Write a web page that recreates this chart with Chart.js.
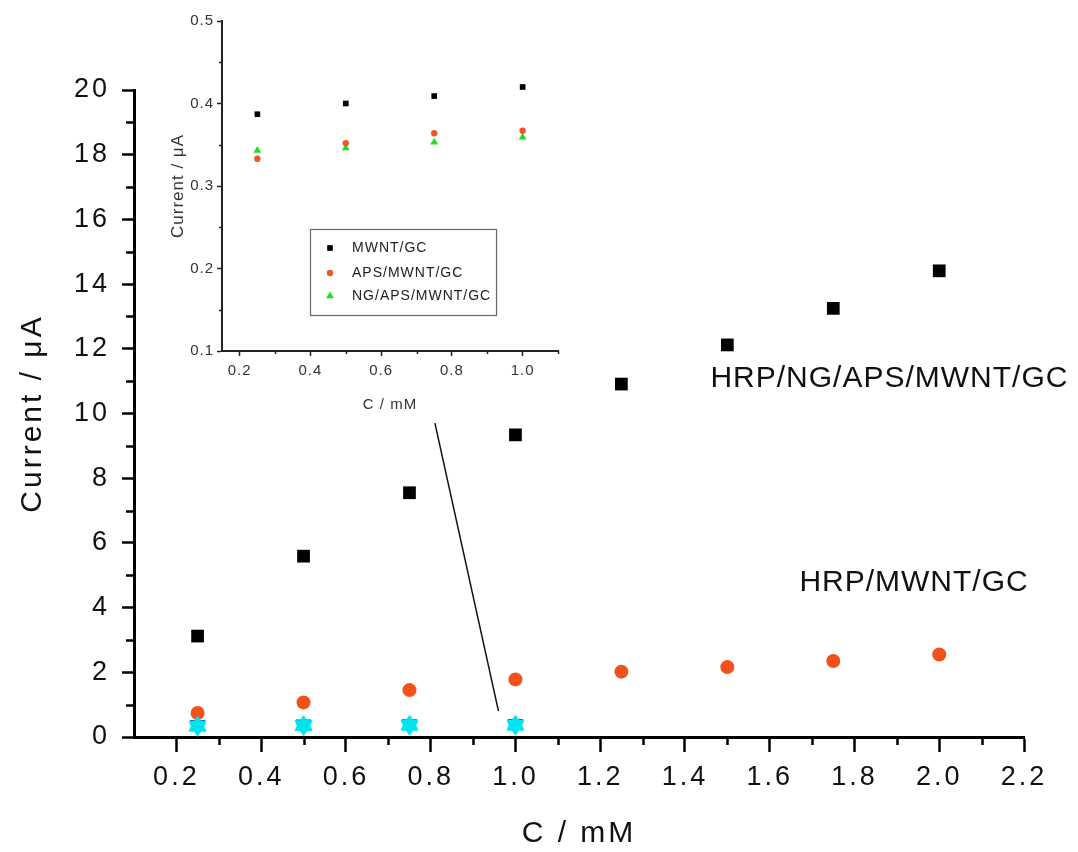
<!DOCTYPE html>
<html>
<head>
<meta charset="utf-8">
<title>Current vs concentration</title>
<script src="https://cdn.jsdelivr.net/npm/chart.js@4.4.1/dist/chart.umd.min.js"></script>
<style>
  html, body { margin: 0; padding: 0; background: #fff; }
  #wrap { position: relative; width: 1078px; height: 852px; overflow: hidden; }
  #mainChart { position: absolute; left: 0; top: 0; }
  #insetChart { position: absolute; left: 160px; top: 0; }
</style>
</head>
<body>
<div id="wrap">
  <canvas id="mainChart" width="1078" height="852"></canvas>
  <canvas id="insetChart" width="410" height="420"></canvas>
</div>
<script>
// concentrations (mM)
const concMain = [0.25, 0.5, 0.75, 1.0, 1.25, 1.5, 1.75, 2.0];
const concInset = [0.25, 0.5, 0.75, 1.0];

// main plot currents (uA)
const hrpNgApsMwnt = [3.12, 5.59, 7.55, 9.34, 10.91, 12.12, 13.25, 14.41];
const hrpMwnt = [0.74, 1.07, 1.45, 1.78, 2.02, 2.16, 2.35, 2.55];

// electrodes without HRP (shown in both plots)
const mwnt = [0.387, 0.400, 0.409, 0.420];
const apsMwnt = [0.333, 0.352, 0.364, 0.367];
const ngApsMwnt = [0.343, 0.346, 0.353, 0.359];

// ticks
const xTicksMain = [0.2, 0.4, 0.6, 0.8, 1.0, 1.2, 1.4, 1.6, 1.8, 2.0, 2.2];
const xMinorMain = [0.3, 0.5, 0.7, 0.9, 1.1, 1.3, 1.5, 1.7, 1.9, 2.1];
const yTicksMain = [0, 2, 4, 6, 8, 10, 12, 14, 16, 18, 20];
const yMinorMain = [1, 3, 5, 7, 9, 11, 13, 15, 17, 19];
const xTicksInset = [0.2, 0.4, 0.6, 0.8, 1.0];
const xMinorInset = [0.3, 0.5, 0.7, 0.9, 1.1];
const yTicksInset = [0.1, 0.2, 0.3, 0.4, 0.5];
const yMinorInset = [0.15, 0.25, 0.35, 0.45];

// line from the inset down to the low points (data units)
const connectorX = [0.81, 0.96];
const connectorY = [9.7, 0.8];

// curve names written next to the data (data units, left/middle of text)
const curveNames = ['HRP/NG/APS/MWNT/GC', 'HRP/MWNT/GC'];
const curveNameX = [1.46, 1.67];
const curveNameY = [11.07, 4.78];

const insetNames = ['MWNT/GC', 'APS/MWNT/GC', 'NG/APS/MWNT/GC'];

const FONT = '"Liberation Sans", Arial, Helvetica, sans-serif';

function toPoints(xs, ys) {
    return xs.map((x, i) => ({ x: x, y: ys[i] }));
}

function makeStar(color, r) {
    const c = document.createElement('canvas');
    const s = Math.ceil(r * 2 + 2);
    c.width = s;
    c.height = s;
    const g = c.getContext('2d');
    g.fillStyle = color;
    g.beginPath();
    for (let i = 0; i < 12; i++) {
        const a = -Math.PI / 2 + i * Math.PI / 6;
        const rr = i % 2 ? r * 0.64 : r;
        g.lineTo(s / 2 + rr * Math.cos(a), s / 2 + rr * Math.sin(a));
    }
    g.closePath();
    g.fill();
    return c;
}

// short ticks between the labelled ones
function minorTicks(xVals, yVals, len, color, width) {
    return {
        id: 'minorTicks',
        afterDraw(chart) {
            const ctx = chart.ctx;
            const xs = chart.scales.x, ys = chart.scales.y;
            ctx.save();
            ctx.strokeStyle = color;
            ctx.lineWidth = width;
            xVals.forEach(v => {
                const px = Math.round(xs.getPixelForValue(v)) + 0.5;
                ctx.beginPath();
                ctx.moveTo(px, xs.top);
                ctx.lineTo(px, xs.top + len);
                ctx.stroke();
            });
            yVals.forEach(v => {
                const py = Math.round(ys.getPixelForValue(v)) + 0.5;
                ctx.beginPath();
                ctx.moveTo(ys.right, py);
                ctx.lineTo(ys.right - len, py);
                ctx.stroke();
            });
            ctx.restore();
        }
    };
}

function spacing(px) {
    return {
        id: 'spacing',
        beforeDraw(chart) { chart.ctx.letterSpacing = px; }
    };
}

const curveNamePlugin = {
    id: 'curveNames',
    afterDatasetsDraw(chart) {
        const ctx = chart.ctx;
        ctx.save();
        ctx.letterSpacing = '1px';
        ctx.font = '30px ' + FONT;
        ctx.fillStyle = '#111';
        ctx.textAlign = 'left';
        ctx.textBaseline = 'middle';
        curveNames.forEach((t, i) => {
            ctx.fillText(t, chart.scales.x.getPixelForValue(curveNameX[i]),
                chart.scales.y.getPixelForValue(curveNameY[i]));
        });
        ctx.restore();
    }
};

const insetLegend = {
    id: 'insetLegend',
    afterDraw(chart) {
        const ctx = chart.ctx;
        const a = chart.chartArea;
        const bx = a.left + 88, by = a.top + 208, bw = 186, bh = 86;
        ctx.save();
        ctx.strokeStyle = '#666';
        ctx.lineWidth = 1.2;
        ctx.strokeRect(bx + 0.5, by + 0.5, bw, bh);
        ctx.font = '14px ' + FONT;
        ctx.fillStyle = '#222';
        ctx.textBaseline = 'middle';
        ctx.textAlign = 'left';
        const rows = [19, 44, 67];
        chart.data.datasets.forEach((ds, i) => {
            const y = by + rows[i];
            ctx.fillStyle = ds.pointBackgroundColor;
            Chart.helpers.drawPoint(ctx, {
                pointStyle: ds.pointStyle,
                radius: ds.pointRadius,
                rotation: 0,
                borderWidth: 0
            }, bx + 20, y);
            ctx.fillStyle = '#222';
            ctx.fillText(insetNames[i], bx + 42, y);
        });
        ctx.restore();
    }
};

const cyanStar = makeStar('#00e4f0', 10.5);

new Chart(document.getElementById('mainChart'), {
    type: 'scatter',
    data: {
        datasets: [
            {
                label: 'HRP/NG/APS/MWNT/GC',
                data: toPoints(concMain, hrpNgApsMwnt),
                pointStyle: 'rect',
                pointRadius: 9,
                pointBackgroundColor: '#000',
                pointBorderWidth: 0,
                order: 4
            },
            {
                label: 'HRP/MWNT/GC',
                data: toPoints(concMain, hrpMwnt),
                pointStyle: 'circle',
                pointRadius: 7,
                pointBackgroundColor: '#f2511c',
                pointBorderWidth: 0,
                order: 4
            },
            {
                label: 'MWNT/GC',
                data: toPoints(concInset, mwnt),
                pointStyle: 'triangle',
                pointRotation: 180,
                pointRadius: 9,
                pointBackgroundColor: '#1a3aa8',
                pointBorderWidth: 0,
                order: 3
            },
            {
                label: 'NG/APS/MWNT/GC',
                data: toPoints(concInset, ngApsMwnt),
                pointStyle: 'triangle',
                pointRadius: 9,
                pointBackgroundColor: '#2ccf4a',
                pointBorderWidth: 0,
                order: 2
            },
            {
                label: 'APS/MWNT/GC',
                data: toPoints(concInset, apsMwnt),
                pointStyle: cyanStar,
                pointRadius: 10,
                order: 1
            },
            {
                label: 'connector',
                data: toPoints(connectorX, connectorY),
                showLine: true,
                borderColor: '#111',
                borderWidth: 1.5,
                pointRadius: 0,
                order: 5
            }
        ]
    },
    options: {
        responsive: false,
        animation: false,
        events: [],
        layout: { padding: { top: 90, right: 54, left: 0, bottom: 0 } },
        plugins: {
            legend: { display: false },
            tooltip: { enabled: false }
        },
        scales: {
            x: {
                type: 'linear',
                min: 0.1,
                max: 2.2,
                afterBuildTicks: s => { s.ticks = xTicksMain.map(v => ({ value: v })); },
                afterFit: s => { s.height = 115; },
                grid: { drawOnChartArea: false, tickLength: 15, tickWidth: 2.5, tickColor: '#000' },
                border: { color: '#000', width: 3 },
                ticks: {
                    color: '#111',
                    font: { family: FONT, size: 27 },
                    padding: 9,
                    autoSkip: false,
                    maxRotation: 0,
                    callback: v => v.toFixed(1)
                },
                title: {
                    display: true,
                    text: 'C / mM',
                    color: '#111',
                    font: { family: FONT, size: 30 },
                    padding: { top: 0, bottom: 0 }
                }
            },
            y: {
                type: 'linear',
                min: 0,
                max: 20,
                afterBuildTicks: s => { s.ticks = yTicksMain.map(v => ({ value: v })); },
                afterFit: s => { s.width = 134; },
                grid: { drawOnChartArea: false, tickLength: 12, tickWidth: 2.5, tickColor: '#000' },
                border: { color: '#000', width: 3 },
                ticks: {
                    color: '#111',
                    font: { family: FONT, size: 27 },
                    padding: 12,
                    callback: v => String(v)
                },
                title: {
                    display: true,
                    text: 'Current / μA',
                    color: '#111',
                    font: { family: FONT, size: 30 },
                    padding: { top: 15, bottom: 0 }
                }
            }
        }
    },
    plugins: [spacing('3px'), minorTicks(xMinorMain, yMinorMain, 8, '#000', 2.5), curveNamePlugin]
});

new Chart(document.getElementById('insetChart'), {
    type: 'scatter',
    data: {
        datasets: [
            {
                label: 'MWNT/GC',
                data: toPoints(concInset, mwnt),
                pointStyle: 'rect',
                pointRadius: 4,
                pointBackgroundColor: '#000',
                pointBorderWidth: 0
            },
            {
                label: 'APS/MWNT/GC',
                data: toPoints(concInset, apsMwnt),
                pointStyle: 'circle',
                pointRadius: 3.2,
                pointBackgroundColor: '#f0552a',
                pointBorderWidth: 0
            },
            {
                label: 'NG/APS/MWNT/GC',
                data: toPoints(concInset, ngApsMwnt),
                pointStyle: 'triangle',
                pointRadius: 4.5,
                pointBackgroundColor: '#22dd22',
                pointBorderWidth: 0
            }
        ]
    },
    options: {
        responsive: false,
        animation: false,
        events: [],
        layout: { padding: { top: 21, right: 12, left: 0, bottom: 0 } },
        plugins: {
            legend: { display: false },
            tooltip: { enabled: false }
        },
        scales: {
            x: {
                type: 'linear',
                min: 0.15,
                max: 1.1,
                afterBuildTicks: s => { s.ticks = xTicksInset.map(v => ({ value: v })); },
                afterFit: s => { s.height = 69; },
                grid: { drawOnChartArea: false, tickLength: 5, tickWidth: 1.5, tickColor: '#222' },
                border: { color: '#222', width: 2 },
                ticks: {
                    color: '#333',
                    font: { family: FONT, size: 15 },
                    padding: 6,
                    autoSkip: false,
                    maxRotation: 0,
                    callback: v => v.toFixed(1)
                },
                title: {
                    display: true,
                    text: 'C / mM',
                    color: '#333',
                    font: { family: FONT, size: 15 },
                    padding: { top: 0, bottom: 6 }
                }
            },
            y: {
                type: 'linear',
                min: 0.1,
                max: 0.5,
                afterBuildTicks: s => { s.ticks = yTicksInset.map(v => ({ value: v })); },
                afterFit: s => { s.width = 62; },
                grid: { drawOnChartArea: false, tickLength: 5, tickWidth: 1.5, tickColor: '#222' },
                border: { color: '#222', width: 2 },
                ticks: {
                    color: '#333',
                    font: { family: FONT, size: 15 },
                    padding: 3,
                    callback: v => v.toFixed(1)
                },
                title: {
                    display: true,
                    text: 'Current / μA',
                    color: '#333',
                    font: { family: FONT, size: 17 },
                    padding: { top: 8, bottom: 0 }
                }
            }
        }
    },
    plugins: [spacing('1px'), minorTicks(xMinorInset, yMinorInset, 3, '#222', 1.5), insetLegend]
});
</script>
</body>
</html>
